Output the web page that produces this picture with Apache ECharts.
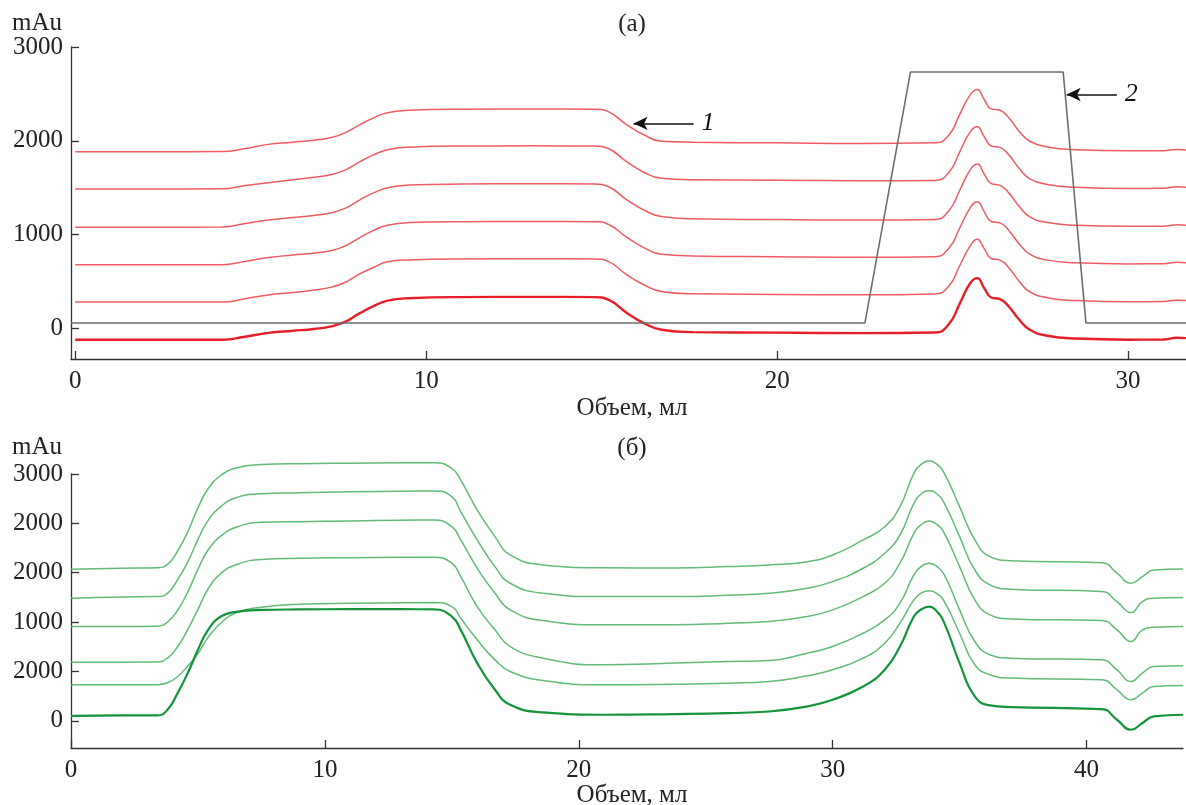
<!DOCTYPE html>
<html>
<head>
<meta charset="utf-8">
<script src="https://cdn.jsdelivr.net/npm/echarts@6/dist/echarts.min.js"></script>
<style>
  html, body { margin: 0; padding: 0; background: #fff; }
  #chart { width: 1186px; height: 805px; }
</style>
</head>
<body>
<div id="chart"></div>
<script>
// (a) объем, мл
var volumeA = [0, 2, 4.2, 4.8, 5.5, 6.2, 6.8, 7.3, 7.7, 8.1, 8.5, 8.9, 9.5, 11, 13, 14.8, 15.2, 15.7, 16.2, 16.7,
    17.6, 20, 22.4, 24.5, 24.9, 25.2, 25.5, 25.7, 25.9, 26.1, 26.35, 26.6, 26.9, 27.2, 27.7, 28.5, 30, 31, 31.4, 31.65];
var traceA1 = [-120, -120, -120, -92, -48, -25, -6, 22, 72, 160, 238, 296, 322, 334, 336, 334, 305, 170, 57, -14,
    -40, -45, -50, -44, 50, 262, 482, 536, 430, 330, 313, 234, 92, -14, -78, -108, -120, -118, -100, -104];
var traceA2 = [281, 281, 281, 313, 357, 382, 410, 440, 492, 580, 650, 710, 730, 741, 743, 741, 712, 575, 465, 394,
    369, 362, 359, 368, 455, 668, 880, 951, 850, 745, 728, 648, 500, 390, 328, 298, 283, 288, 300, 298];
var traceA3 = [678, 678, 680, 712, 755, 782, 802, 830, 880, 965, 1045, 1100, 1128, 1138, 1140, 1138, 1108, 975, 862, 791,
    773, 765, 759, 765, 858, 1068, 1285, 1351, 1245, 1140, 1125, 1045, 900, 792, 728, 700, 688, 690, 705, 700];
var traceA4 = [1079, 1079, 1082, 1115, 1156, 1182, 1205, 1232, 1282, 1368, 1445, 1500, 1528, 1539, 1542, 1539, 1510, 1375, 1262, 1192,
    1168, 1160, 1156, 1162, 1258, 1470, 1690, 1752, 1645, 1543, 1525, 1445, 1300, 1190, 1128, 1100, 1088, 1090, 1105, 1100];
var traceA5 = [1486, 1486, 1488, 1520, 1553, 1585, 1611, 1640, 1690, 1775, 1850, 1905, 1932, 1944, 1946, 1944, 1915, 1780, 1665, 1600,
    1585, 1580, 1575, 1578, 1665, 1880, 2095, 2149, 2045, 1945, 1930, 1850, 1705, 1595, 1535, 1505, 1492, 1495, 1510, 1505];
var traceA6 = [1883, 1883, 1885, 1915, 1962, 1985, 2007, 2035, 2087, 2170, 2245, 2300, 2325, 2337, 2340, 2337, 2308, 2175, 2065, 1995,
    1985, 1978, 1972, 1978, 2065, 2280, 2490, 2547, 2440, 2340, 2325, 2245, 2100, 1995, 1935, 1905, 1893, 1895, 1908, 1901];
// кривая 2 (градиент)
var gradientX = [-0.12, 22.5, 23.8, 28.15, 28.8, 31.65];
var gradientY = [57, 57, 2734, 2734, 57, 57];

// (б)
var volumeB = [0, 2, 3.4, 3.8, 4.2, 4.6, 5.0, 5.4, 5.9, 6.5, 7.5, 9, 11, 13, 14.3, 15.0, 15.35, 16.0, 16.7, 17.3,
    18.6, 20.9, 23.8, 25.9, 27.5, 29.0, 30.0, 31.2, 32.05, 32.65, 33.2, 33.5, 33.8, 34.1, 34.4, 35.0, 35.6, 36.2, 37.0, 40.6,
    41.2, 41.75, 42.2, 42.65, 43.8];
var traceB1 = [50, 54, 54, 111, 280, 483, 719, 921, 1056, 1104, 1123, 1128, 1130, 1130, 1128, 1056, 921, 584, 314, 162,
    84, 61, 68, 78, 94, 145, 213, 347, 516, 752, 1056, 1130, 1157, 1110, 989, 584, 246, 155, 139, 118,
    10, -91, -23, 44, 61];
var traceB2 = [364, 364, 366, 385, 448, 555, 680, 845, 990, 1095, 1150, 1180, 1191, 1195, 1197, 1157, 1039, 820, 617, 499,
    408, 364, 370, 381, 398, 455, 516, 634, 786, 989, 1225, 1295, 1316, 1290, 1207, 887, 567, 466, 432, 415,
    314, 213, 280, 347, 357];
var traceB3 = [594, 594, 596, 635, 750, 925, 1128, 1335, 1490, 1580, 1635, 1646, 1652, 1656, 1657, 1596, 1460, 1157, 921, 752,
    634, 567, 584, 600, 610, 685, 752, 887, 1022, 1191, 1478, 1565, 1596, 1565, 1478, 1123, 803, 668, 634, 617,
    516, 398, 483, 550, 557];
var traceB4 = [954, 954, 958, 1000, 1120, 1305, 1533, 1730, 1870, 1960, 2010, 2017, 2025, 2032, 2034, 1966, 1832, 1545, 1292, 1123,
    1015, 972, 972, 989, 1005, 1056, 1123, 1258, 1393, 1596, 1899, 1990, 2024, 1990, 1899, 1562, 1225, 1073, 1032, 1015,
    921, 803, 921, 948, 954];
var traceB5 = [1242, 1255, 1258, 1290, 1430, 1610, 1835, 2030, 2170, 2260, 2300, 2310, 2320, 2326, 2328, 2270, 2118, 1832, 1562, 1393,
    1292, 1258, 1258, 1272, 1292, 1343, 1410, 1545, 1697, 1882, 2203, 2300, 2331, 2300, 2203, 1865, 1528, 1376, 1333, 1309,
    1207, 1096, 1207, 1242, 1248];
var traceB6 = [1535, 1545, 1551, 1585, 1720, 1915, 2157, 2350, 2485, 2560, 2595, 2605, 2610, 2613, 2614, 2557, 2439, 2135, 1865, 1680,
    1579, 1550, 1548, 1562, 1579, 1612, 1680, 1832, 1966, 2169, 2507, 2600, 2634, 2600, 2507, 2169, 1832, 1663, 1622, 1602,
    1495, 1393, 1460, 1528, 1538];

// подписи осей
var xTicksA = [0, 10, 20, 30];
var yTicksA = [0, 1000, 2000, 3000];
var xTicksB = [0, 10, 20, 30, 40];
var yTicksB = [0, 500, 1000, 1500, 2000, 2500];
var yTickLabelsB = ['0', '2000', '1000', '2000', '2000', '3000'];

(function () {
    var myChart = echarts.init(document.getElementById('chart'));
    var serif = '"Liberation Serif", "DejaVu Serif", serif';
    var axisColor = '#333';

    function zip(xs, ys) {
        return xs.map(function (x, i) { return [x, ys[i]]; });
    }

    function curve(name, xs, ys, grid, color, width) {
        return {
            name: name,
            type: 'line',
            xAxisIndex: grid,
            yAxisIndex: grid,
            data: zip(xs, ys),
            showSymbol: false,
            smooth: 0.5,
            clip: false,
            silent: true,
            lineStyle: { color: color, width: width }
        };
    }

    function plain(v) { return String(v); }

    function xAxis(grid, min, max, ticks) {
        return {
            type: 'value', gridIndex: grid, min: min, max: max,
            splitLine: { show: false },
            axisLine: { onZero: false, lineStyle: { color: axisColor, width: 1.3 } },
            axisTick: { inside: true, length: 8, customValues: ticks, lineStyle: { color: axisColor, width: 1.3 } },
            axisLabel: { customValues: ticks, color: '#222', fontSize: 25, fontFamily: serif, margin: 10, formatter: plain }
        };
    }

    function yAxis(grid, min, max, ticks, fmt) {
        return {
            type: 'value', gridIndex: grid, min: min, max: max,
            splitLine: { show: false },
            axisLine: { show: true, onZero: false, lineStyle: { color: axisColor, width: 1.3 } },
            axisTick: { show: true, inside: true, length: 8, customValues: ticks, lineStyle: { color: axisColor, width: 1.3 } },
            axisLabel: { customValues: ticks, color: '#222', fontSize: 25, fontFamily: serif, margin: 8, formatter: fmt }
        };
    }

    var redLight = 'rgba(236, 62, 72, 0.85)';
    var redDark = '#e61e27';
    var greenLight = 'rgba(70, 175, 95, 0.85)';
    var greenDark = '#13943a';

    var arrowStyle = { color: '#111', width: 1.6, type: 'solid' };
    function arrowLabel(text) {
        return { show: true, position: 'start', distance: 8, formatter: text, fontStyle: 'italic',
            fontFamily: serif, fontSize: 26, color: '#111' };
    }

    var seriesA6 = curve('a6', volumeA, traceA6, 0, redLight, 1.5);
    seriesA6.markLine = {
        silent: true, symbol: ['none', 'arrow'], symbolSize: [10, 14],
        lineStyle: arrowStyle, label: arrowLabel('1'),
        data: [[{ coord: [17.62, 2185] }, { coord: [15.91, 2185] }]]
    };
    var seriesGrad = curve('gradient', gradientX, gradientY, 0, '#6e6e6e', 1.6);
    seriesGrad.smooth = false;
    seriesGrad.markLine = {
        silent: true, symbol: ['none', 'arrow'], symbolSize: [10, 14],
        lineStyle: arrowStyle, label: arrowLabel('2'),
        data: [[{ coord: [29.68, 2494] }, { coord: [28.25, 2494] }]]
    };

    var option = {
        animation: false,
        backgroundColor: '#fff',
        grid: [
            { left: 71, right: 0, top: 47, bottom: 446 },
            { left: 71, right: 3, top: 474, bottom: 57 }
        ],
        xAxis: [xAxis(0, -0.12, 31.65, xTicksA), xAxis(1, 0, 43.8, xTicksB)],
        yAxis: [
            yAxis(0, -326, 3000, yTicksA, plain),
            yAxis(1, -276, 2500, yTicksB, function (v) {
                return yTickLabelsB[Math.round(v / 500)];
            })
        ],
        series: [
            curve('a1', volumeA, traceA1, 0, redDark, 2.4),
            curve('a2', volumeA, traceA2, 0, redLight, 1.5),
            curve('a3', volumeA, traceA3, 0, redLight, 1.5),
            curve('a4', volumeA, traceA4, 0, redLight, 1.5),
            curve('a5', volumeA, traceA5, 0, redLight, 1.5),
            seriesA6,
            seriesGrad,
            curve('b2', volumeB, traceB2, 1, greenLight, 1.5),
            curve('b3', volumeB, traceB3, 1, greenLight, 1.5),
            curve('b4', volumeB, traceB4, 1, greenLight, 1.5),
            curve('b5', volumeB, traceB5, 1, greenLight, 1.5),
            curve('b6', volumeB, traceB6, 1, greenLight, 1.5),
            curve('b1', volumeB, traceB1, 1, greenDark, 2.2)
        ],
        graphic: [
            { type: 'text', left: 12, top: 11, style: { text: 'mAu', font: '25px ' + serif, fill: '#222' } },
            { type: 'text', x: 632, y: 24, style: { text: '(a)', font: '25px ' + serif, fill: '#222', align: 'center', verticalAlign: 'middle' } },
            { type: 'text', x: 632, y: 408, style: { text: 'Объем, мл', font: '25px ' + serif, fill: '#222', align: 'center', verticalAlign: 'middle' } },
            { type: 'text', left: 12, top: 435, style: { text: 'mAu', font: '25px ' + serif, fill: '#222' } },
            { type: 'text', x: 632, y: 448, style: { text: '(б)', font: '25px ' + serif, fill: '#222', align: 'center', verticalAlign: 'middle' } },
            { type: 'text', x: 632, y: 795, style: { text: 'Объем, мл', font: '25px ' + serif, fill: '#222', align: 'center', verticalAlign: 'middle' } }
        ]
    };
    myChart.setOption(option);
})();
</script>
</body>
</html>
